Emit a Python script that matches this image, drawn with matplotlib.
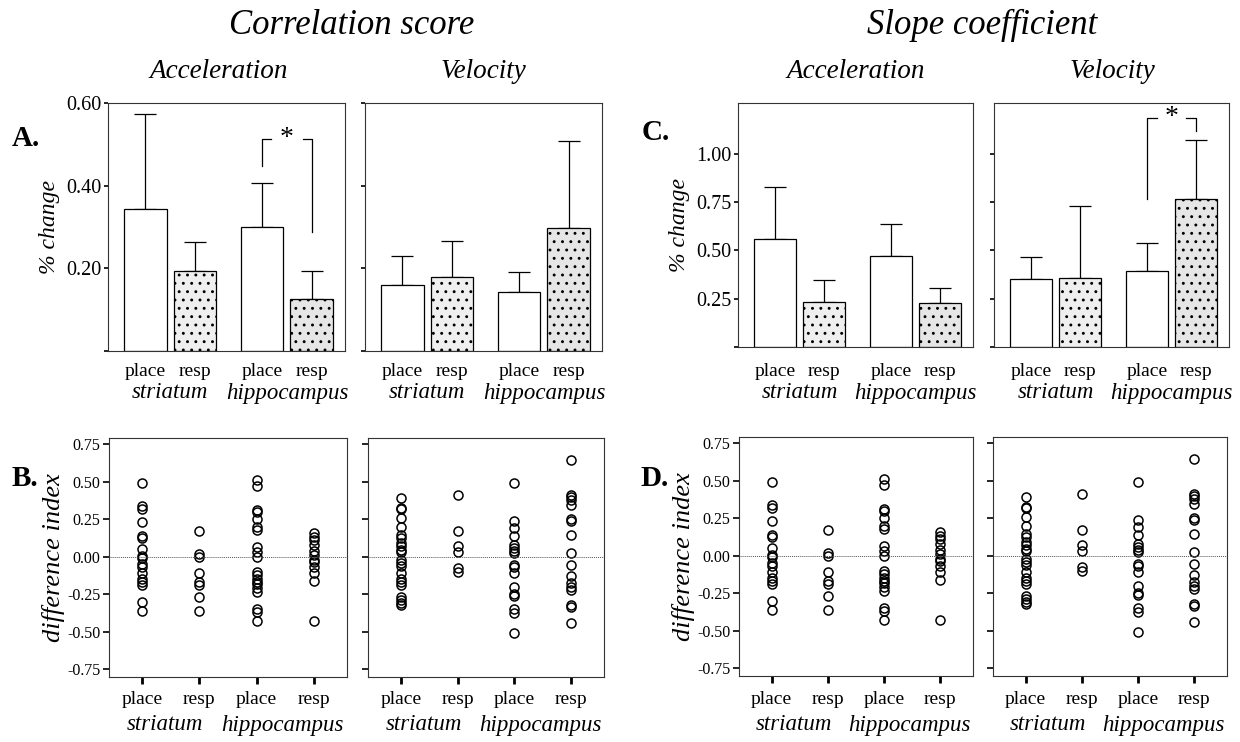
import matplotlib
matplotlib.use("Agg")
import matplotlib.pyplot as plt
from matplotlib.transforms import blended_transform_factory

plt.rcParams['font.family'] = ['Liberation Serif', 'DejaVu Serif']
plt.rcParams['hatch.linewidth'] = 0.9

# Bar charts: group means and upper error (top of error bar minus mean)
groups = ["place", "resp", "place", "resp"]
regions = ["striatum", "hippocampus"]

corr_acc_mean = [0.343, 0.193, 0.300, 0.125]
corr_acc_err = [0.231, 0.070, 0.107, 0.068]
corr_vel_mean = [0.159, 0.178, 0.143, 0.298]
corr_vel_err = [0.070, 0.087, 0.049, 0.210]

slope_acc_mean = [0.559, 0.233, 0.469, 0.226]
slope_acc_err = [0.267, 0.112, 0.169, 0.081]
slope_vel_mean = [0.352, 0.357, 0.392, 0.768]
slope_vel_err = [0.116, 0.373, 0.144, 0.301]

# Difference index, individual animals (same in B and D)
acc_place_str = [0.49, 0.34, 0.32, 0.23, 0.14, 0.125, 0.05, 0.005, -0.01, -0.05, -0.07,
                 -0.11, -0.15, -0.17, -0.19, -0.30, -0.36]
acc_resp_str = [0.17, 0.02, 0.00, -0.11, -0.17, -0.19, -0.27, -0.36]
acc_place_hip = [0.51, 0.47, 0.31, 0.30, 0.25, 0.20, 0.18, 0.065, 0.03, 0.0, -0.10, -0.12,
                 -0.145, -0.17, -0.18, -0.21, -0.235, -0.35, -0.37, -0.43]
acc_resp_hip = [0.155, 0.13, 0.11, 0.075, 0.04, 0.01, -0.02, -0.035, -0.07, -0.11, -0.16, -0.43]

vel_place_str = [0.39, 0.325, 0.32, 0.26, 0.20, 0.145, 0.125, 0.09, 0.07, 0.045, 0.03, -0.02,
                 -0.04, -0.06, -0.105, -0.15, -0.165, -0.19, -0.27, -0.29, -0.31, -0.32]
vel_resp_str = [0.41, 0.17, 0.07, 0.03, -0.075, -0.10]
vel_place_hip = [0.49, 0.24, 0.19, 0.135, 0.075, 0.06, 0.035, 0.025, -0.055, -0.07, -0.105,
                 -0.20, -0.25, -0.26, -0.35, -0.375, -0.51]
vel_resp_hip = [0.645, 0.41, 0.40, 0.38, 0.345, 0.25, 0.24, 0.145, 0.025, -0.055, -0.13,
                -0.175, -0.20, -0.22, -0.32, -0.335, -0.44]

W, H = 1240, 742
fig = plt.figure(figsize=(W / 100, H / 100), dpi=100)


def px_axes(x0, y0, x1, y1):
    return fig.add_axes([x0 / W, 1 - y1 / H, (x1 - x0) / W, (y1 - y0) / H])


def fy(y):
    return 1 - y / H


def box(ax):
    for s in ax.spines.values():
        s.set_linewidth(0.8)
        s.set_color('#333333')


bar_x = [0, 1, 2.35, 3.35]
hatches = [None, '..', None, '..']
faces = ['white', '#efefef', 'white', '#e6e6e6']


def bar_panel(ax, means, errs, ylim, yticks, ylabels, y_place, y_region):
    box(ax)
    ax.bar(bar_x, means, width=0.86, color=faces, edgecolor='black', linewidth=0.9,
           hatch=hatches, zorder=2)
    ax.errorbar(bar_x, means, yerr=[[0] * 4, errs], fmt='none', ecolor='black',
                elinewidth=0.9, capsize=8, capthick=0.9, zorder=1)
    ax.set_xlim(-0.75, 4.02)
    ax.set_ylim(*ylim)
    ax.set_xticks([])
    ax.set_yticks(yticks)
    ax.set_yticklabels(ylabels, fontsize=14.5)
    ax.tick_params(axis='y', length=3, width=1.2, pad=2, direction='out')
    tr = blended_transform_factory(ax.transData, fig.transFigure)
    for x, g in zip(bar_x, groups):
        ax.text(x, fy(y_place), g, transform=tr, ha='center', va='center', fontsize=14)
    ax.text((bar_x[0] + bar_x[1]) / 2, fy(y_region), regions[0], transform=tr,
            ha='center', va='center', fontsize=16.5, style='italic')
    ax.text((bar_x[2] + bar_x[3]) / 2, fy(y_region), regions[1], transform=tr,
            ha='center', va='center', fontsize=16.5, style='italic')


def bracket(ax, y_left, y_top, y_right, gap):
    xl, xr = bar_x[2], bar_x[3]
    xm = (xl + xr) / 2
    kw = dict(color='black', lw=0.9)
    ax.plot([xl, xl, xm - gap], [y_left, y_top, y_top], **kw)
    ax.plot([xm + gap, xr, xr], [y_top, y_top, y_right], **kw)
    ax.text(xm, y_top, '*', ha='center', va='center', fontsize=20)


def dot_panel(ax, series, labels):
    box(ax)
    for i, vals in enumerate(series):
        ax.plot([i + 1] * len(vals), vals, 'o', mfc='none', mec='black', ms=6.5, mew=1.1,
                linestyle='none')
    ax.axhline(0, color='#555555', lw=0.7, ls=(0, (1, 1)))
    ax.set_xlim(0.42, 4.58)
    ax.set_ylim(-0.80, 0.79)
    ax.set_xticks([1, 2, 3, 4])
    ax.set_xticklabels([])
    ax.tick_params(axis='x', length=5, width=2, direction='out')
    ticks = [0.75, 0.5, 0.25, 0.0, -0.25, -0.5, -0.75]
    ax.set_yticks(ticks)
    if labels:
        ax.set_yticklabels(["%.2f" % t for t in ticks], fontsize=11.5)
    else:
        ax.set_yticklabels([])
    ax.tick_params(axis='y', length=4, width=1.2, pad=2, direction='out')
    tr = blended_transform_factory(ax.transData, fig.transFigure)
    for x, g in zip([1, 2, 3, 4], groups):
        ax.text(x, fy(700), g, transform=tr, ha='center', va='center', fontsize=14)
    ax.text(1.4, fy(725), regions[0], transform=tr, ha='center', va='center',
            fontsize=16.5, style='italic')
    ax.text(3.45, fy(725), regions[1], transform=tr, ha='center', va='center',
            fontsize=16.5, style='italic')


# A: correlation score
axA1 = px_axes(108, 103, 345, 351)
bar_panel(axA1, corr_acc_mean, corr_acc_err, (0, 0.6), [0, 0.2, 0.4, 0.6],
          ["", "0.20", "0.40", "0.60"], 372, 393)
bracket(axA1, 0.447, 0.513, 0.289, 0.32)
axA1.set_ylabel("% change", fontsize=17, style='italic', labelpad=4)

axA2 = px_axes(365, 103, 602, 351)
bar_panel(axA2, corr_vel_mean, corr_vel_err, (0, 0.6), [0, 0.2, 0.4, 0.6],
          ["", "", "", ""], 372, 393)

# C: slope coefficient
axC1 = px_axes(738, 103, 973, 347)
bar_panel(axC1, slope_acc_mean, slope_acc_err, (0, 1.263), [0, 0.25, 0.5, 0.75, 1.0],
          ["", "0.25", "0.50", "0.75", "1.00"], 372, 393)
axC1.set_ylabel("% change", fontsize=17, style='italic', labelpad=4)

axC2 = px_axes(994, 103, 1229, 347)
bar_panel(axC2, slope_vel_mean, slope_vel_err, (0, 1.263), [0, 0.25, 0.5, 0.75, 1.0],
          ["", "", "", "", ""], 372, 393)
bracket(axC2, 0.768, 1.186, 1.12, 0.3)

# B and D: difference index
acc_series = [acc_place_str, acc_resp_str, acc_place_hip, acc_resp_hip]
vel_series = [vel_place_str, vel_resp_str, vel_place_hip, vel_resp_hip]

axB1 = px_axes(109, 438, 347, 677)
dot_panel(axB1, acc_series, True)
axB1.set_ylabel("difference index", fontsize=19, style='italic', labelpad=2)
axB2 = px_axes(368, 438, 604, 677)
dot_panel(axB2, vel_series, False)

axD1 = px_axes(739, 437, 973, 676)
dot_panel(axD1, acc_series, True)
axD1.set_ylabel("difference index", fontsize=19, style='italic', labelpad=2)
axD2 = px_axes(993, 437, 1227, 676)
dot_panel(axD2, vel_series, False)

# titles and panel letters
fig.text(352 / W, fy(25), "Correlation score", ha='center', va='center', fontsize=25, style='italic')
fig.text(982 / W, fy(25), "Slope coefficient", ha='center', va='center', fontsize=25, style='italic')
fig.text(219 / W, fy(72), "Acceleration", ha='center', va='center', fontsize=19.5, style='italic')
fig.text(483 / W, fy(72), "Velocity", ha='center', va='center', fontsize=19.5, style='italic')
fig.text(856 / W, fy(72), "Acceleration", ha='center', va='center', fontsize=19.5, style='italic')
fig.text(1112 / W, fy(72), "Velocity", ha='center', va='center', fontsize=19.5, style='italic')

for lbl, x, y in [("A.", 12, 138), ("B.", 12, 478), ("C.", 642, 133), ("D.", 640, 478)]:
    fig.text(x / W, fy(y), lbl, ha='left', va='center', fontsize=21, weight='bold')

fig.savefig("out.png", dpi=100)
